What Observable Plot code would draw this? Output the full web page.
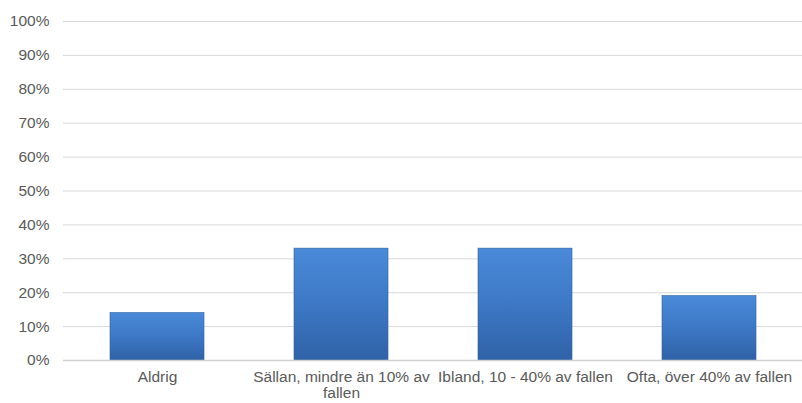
<!DOCTYPE html>
<html><head><meta charset="utf-8">
<script src="https://cdn.jsdelivr.net/npm/d3@7"></script>
<script src="https://cdn.jsdelivr.net/npm/@observablehq/plot@0.6"></script>
<style>body{margin:0;background:#fff}#chart svg{display:block}</style>
</head><body><div id="chart"></div>
<script>
const categories = ["Aldrig", "Sällan", "Ibland", "Ofta"];
const values = [0.14, 0.33, 0.33, 0.19];
const tickLabels = ["Aldrig", "Sällan, mindre än 10% av\nfallen", "Ibland, 10 - 40% av fallen", "Ofta, över 40% av fallen"];
const yTicks = [0, 0.1, 0.2, 0.3, 0.4, 0.5, 0.6, 0.7, 0.8, 0.9, 1.0];

const data = categories.map((c, i) => ({category: c, value: values[i]}));
const labelOf = new Map(categories.map((c, i) => [c, tickLabels[i]]));

const plot = Plot.plot({
  width: 802,
  height: 403,
  marginTop: 21,
  marginBottom: 43,
  marginLeft: 63,
  marginRight: 0,
  style: {fontFamily: "'Liberation Sans', Arial, sans-serif", fontSize: "15.5px", color: "#595959", background: "#fff"},
  x: {domain: categories, paddingInner: 0.49, paddingOuter: 0.245, label: null},
  y: {domain: [0, 1], label: null},
  marks: [
    Plot.gridY(yTicks, {stroke: "#d9d9d9", strokeOpacity: 1, strokeWidth: 1}),
    Plot.barY(data, {x: "category", y: "value", fill: "url(#barGrad)", stroke: "#2f5f9f", strokeWidth: 0.6}),
    Plot.ruleY([0], {stroke: "#d0d0d0", strokeWidth: 1.5}),
    Plot.axisY({ticks: yTicks, tickFormat: d => Math.round(d * 100) + "%", tickSize: 0, tickPadding: 14, fill: "#595959", fontSize: 15.5}),
    Plot.axisX({tickSize: 0, tickPadding: 10, tickFormat: d => labelOf.get(d), fill: "#595959", fontSize: 15.5, lineHeight: 1.05})
  ]
});

const svg = d3.select(plot);
const defs = svg.insert("defs", ":first-child");
const g = defs.append("linearGradient").attr("id", "barGrad").attr("x1", 0).attr("y1", 0).attr("x2", 0).attr("y2", 1);
g.append("stop").attr("offset", "0%").attr("stop-color", "#4a8ad8");
g.append("stop").attr("offset", "50%").attr("stop-color", "#3d78c6");
g.append("stop").attr("offset", "100%").attr("stop-color", "#2f62a6");

document.getElementById("chart").appendChild(plot);
</script>
</body></html>
